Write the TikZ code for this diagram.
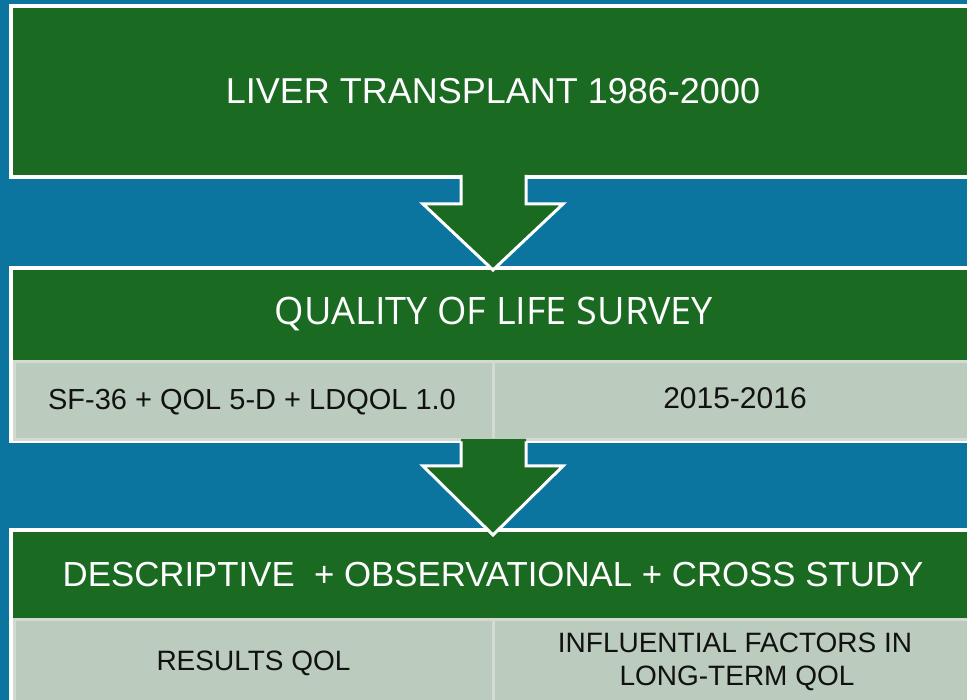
\documentclass[tikz,border=0pt]{standalone}
\usepackage{fontspec}
\setmainfont{Liberation Sans}
\newfontfamily\opensans{Open Sans}
\definecolor{bgblue}{HTML}{0B75A0}
\definecolor{boxgreen}{HTML}{1B6A22}
\definecolor{cellfill}{HTML}{BBCBBD}
\definecolor{cellline}{HTML}{D3DAD3}
\definecolor{celltxt}{HTML}{111111}
\begin{document}
\begin{tikzpicture}[x=1pt,y=-1pt,
  greenbox/.style={draw=white, line width=4pt, fill=boxgreen, inner sep=0pt, outer sep=0pt},
  cellbox/.style={draw=cellline, line width=3pt, fill=cellfill, inner sep=0pt, outer sep=0pt},
  headtext/.style={text=white, anchor=base, inner sep=0pt},
  celltext/.style={text=celltxt, anchor=base, inner sep=0pt},
  arrowfill/.style={fill=boxgreen},
  arrowedge/.style={draw=white, line width=3pt, line join=miter}]

\useasboundingbox (0,0) rectangle (967,700);
\clip (0,0) rectangle (967,700);
\fill[bgblue] (0,0) rectangle (967,700);

% boxes
\node[greenbox, minimum width=964pt, minimum height=171pt] (box1) at (493,91.5) {};
\node[greenbox, minimum width=964pt, minimum height=173pt] (box2) at (493,354.5) {};
\node[greenbox, minimum width=964pt, minimum height=180pt] (box3) at (493,620) {};

% cells
\node[cellbox, minimum width=478.5pt, minimum height=78.5pt] (cellA) at (253.75,400.75) {};
\node[cellbox, minimum width=485pt, minimum height=78.5pt] (cellB) at (735.5,400.75) {};
\node[cellbox, minimum width=478.5pt, minimum height=85pt] (cellC) at (253.75,662) {};
\node[cellbox, minimum width=485pt, minimum height=85pt] (cellD) at (735.5,662) {};

% block arrows
\fill[arrowfill] (461,173) -- (461,204) -- (423,204) -- (493,270) -- (563,204) -- (526,204) -- (526,173) -- cycle;
\draw[arrowedge] (461,175) -- (461,204) -- (423,204) -- (493,270) -- (563,204) -- (526,204) -- (526,175);
\fill[arrowfill] (461,439) -- (461,466) -- (423,466) -- (493,535) -- (563,466) -- (526,466) -- (526,439) -- cycle;
\draw[arrowedge] (461,441.5) -- (461,466) -- (423,466) -- (493,535) -- (563,466) -- (526,466) -- (526,441.5);

% texts
\node[headtext, font=\fontsize{36}{40}\selectfont] (t1) at (493,103.3) {LIVER TRANSPLANT 1986-2000};
\node[headtext, font=\opensans\fontsize{37.8}{40}\selectfont] (t2) at (494,325) {QUALITY OF LIFE SURVEY};
\node[headtext, font=\fontsize{34.8}{40}\selectfont] (t3) at (493,586.7) {DESCRIPTIVE\ \ + OBSERVATIONAL + CROSS STUDY};

\node[celltext, font=\fontsize{29}{33}\selectfont] (tA) at (252,409.3) {SF-36 + QOL 5-D + LDQOL 1.0};
\node[celltext, font=\fontsize{30}{33}\selectfont] (tB) at (735,408.3) {2015-2016};
\node[celltext, font=\fontsize{28}{33}\selectfont] (tC) at (253.5,670) {RESULTS QOL};
\node[celltext, font=\fontsize{28}{33}\selectfont] (tD1) at (735,652) {INFLUENTIAL FACTORS IN};
\node[celltext, font=\fontsize{28}{33}\selectfont] (tD2) at (737,685) {LONG-TERM QOL};
\end{tikzpicture}
\end{document}
